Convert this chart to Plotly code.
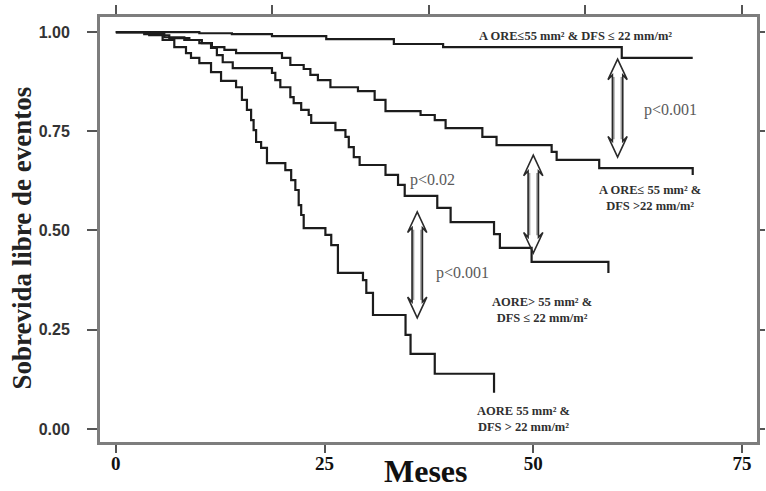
import plotly.graph_objects as go

# Kaplan-Meier event-free survival, four groups (time in months, step value after each event)
months_a = [0, 10.0, 13.9, 18.7, 25.2, 33.3, 39.2, 60.6, 69.1]
surv_a = [1.0, 0.997, 0.995, 0.990, 0.982, 0.970, 0.962, 0.935, 0.935]

months_b = [0, 4.0, 6.4, 8.8, 10.3, 11.5, 13.0, 14.4, 19.9, 20.9, 22.5, 23.3, 24.2,
            25.7, 29.0, 31.0, 32.3, 36.5, 38.2, 39.5, 43.9, 45.6, 52.2, 52.8, 57.9, 69.1]
surv_b = [1.0, 0.992, 0.985, 0.980, 0.972, 0.962, 0.955, 0.947, 0.935, 0.917, 0.907, 0.892, 0.879,
          0.861, 0.851, 0.829, 0.801, 0.791, 0.778, 0.758, 0.736, 0.715, 0.698, 0.678, 0.657, 0.640]

months_c = [0, 3.4, 5.8, 8.2, 10.0, 11.4, 12.1, 12.8, 14.0, 18.7, 19.1, 19.7, 20.9, 21.3, 22.2,
            23.1, 23.4, 26.3, 27.5, 27.9, 28.5, 29.2, 32.3, 33.8, 34.6, 38.5, 40.1, 45.3, 46.0,
            49.8, 59.0]
surv_c = [1.0, 0.995, 0.987, 0.980, 0.972, 0.960, 0.942, 0.924, 0.909, 0.897, 0.879, 0.861, 0.836,
          0.821, 0.804, 0.791, 0.771, 0.753, 0.736, 0.710, 0.685, 0.665, 0.640, 0.615, 0.587,
          0.557, 0.521, 0.491, 0.456, 0.421, 0.393]

months_d = [0, 4.0, 5.6, 7.0, 8.4, 9.0, 10.0, 11.4, 12.6, 14.4, 15.1, 15.7, 16.2, 16.5, 16.8,
            17.4, 18.1, 20.3, 21.0, 21.5, 21.9, 22.2, 22.5, 25.1, 25.8, 26.6, 29.6, 30.0, 30.8,
            34.7, 35.3, 38.2, 45.3]
surv_d = [1.0, 0.995, 0.980, 0.962, 0.947, 0.935, 0.922, 0.899, 0.877, 0.861, 0.829, 0.804,
          0.778, 0.753, 0.723, 0.708, 0.670, 0.652, 0.627, 0.602, 0.564, 0.539, 0.506, 0.489,
          0.463, 0.393, 0.375, 0.343, 0.287, 0.237, 0.189, 0.139, 0.091]

x_ticks = [0, 25, 50, 75]
y_ticks = [0.0, 0.25, 0.5, 0.75, 1.0]
y_tick_text = ["0.00", "0.25", "0.50", "0.75", "1.00"]
top_ticks = [0, 18.75, 37.5, 56.25, 75]

# Group labels: (text, month, survival)
group_labels = [
    ("A ORE≤55 mm² & DFS ≤ 22 mm/m²", 55.0, 0.990),
    ("A ORE≤ 55 mm² &<br>DFS >22 mm/m²", 64.0, 0.582),
    ("AORE> 55 mm² &<br>DFS ≤ 22 mm/m²", 51.0, 0.300),
    ("AORE 55 mm² &<br>DFS > 22 mm/m²", 48.8, 0.025),
]
# Log-rank comparisons: (text, month, survival)
p_labels = [
    ("p<0.001", 66.4, 0.804),
    ("p<0.02", 37.9, 0.627),
    ("p<0.001", 41.5, 0.393),
]
# Double arrows between compared curves: (month, lower survival, upper survival)
arrows = [
    (60.1, 0.685, 0.932),
    (50.0, 0.443, 0.690),
    (36.1, 0.280, 0.547),
]

fig = go.Figure()
line_style = dict(color="#1c1c1c", width=2.2, shape="hv")
for mx, sy in [(months_a, surv_a), (months_b, surv_b), (months_c, surv_c), (months_d, surv_d)]:
    fig.add_trace(go.Scatter(x=mx, y=sy, mode="lines", line=line_style,
                             showlegend=False, hoverinfo="skip"))

# Invisible trace so the mirrored top/right axes carry their own ticks
fig.add_trace(go.Scatter(x=[None], y=[None], xaxis="x2", yaxis="y2",
                         showlegend=False, hoverinfo="skip"))


def double_arrow(xc, y_lo, y_hi, head_w=1.15, shaft_w=0.62, head_h=0.052, notch=0.012):
    pts = [
        (xc, y_hi),
        (xc + head_w, y_hi - head_h),
        (xc + shaft_w, y_hi - head_h + notch),
        (xc + shaft_w, y_lo + head_h - notch),
        (xc + head_w, y_lo + head_h),
        (xc, y_lo),
        (xc - head_w, y_lo + head_h),
        (xc - shaft_w, y_lo + head_h - notch),
        (xc - shaft_w, y_hi - head_h + notch),
        (xc - head_w, y_hi - head_h),
    ]
    return "M " + " L ".join(f"{px},{py}" for px, py in pts) + " Z"


shapes = []
for xc, y_lo, y_hi in arrows:
    # inner shaft strokes give the hollow double-line look
    for dx in (-0.5, 0.5):
        shapes.append(dict(type="line", xref="x", yref="y", x0=xc + dx, x1=xc + dx,
                           y0=y_lo + 0.045, y1=y_hi - 0.045,
                           line=dict(color="#a0a0a0", width=2.5)))
    shapes.append(dict(type="path", xref="x", yref="y", path=double_arrow(xc, y_lo, y_hi),
                       fillcolor="rgba(0,0,0,0)", line=dict(color="#2a2a2a", width=1.6)))

annotations = []
for text, mx, sy in group_labels:
    annotations.append(dict(x=mx, y=sy, xref="x", yref="y", text=text, showarrow=False,
                            align="center",
                            font=dict(family="Liberation Serif", size=12.5, color="#303030",
                                      weight="bold")))
for text, mx, sy in p_labels:
    annotations.append(dict(x=mx, y=sy, xref="x", yref="y", text=text, showarrow=False,
                            font=dict(family="Liberation Serif", size=16, color="#5a5a5a")))

annotations.append(dict(x=0.496, y=0.0, xref="paper", yref="paper", yshift=-29,
                        text="<b>Meses</b>", showarrow=False, yanchor="middle",
                        font=dict(family="Liberation Serif", size=32, color="#111")))
annotations.append(dict(x=-0.118, y=0.48, xref="paper", yref="paper", textangle=-90,
                        xanchor="center", yanchor="middle",
                        text="<b>Sobrevida libre de eventos</b>", showarrow=False,
                        font=dict(family="Liberation Serif", size=27, color="#222")))

frame = dict(showline=True, linecolor="#7d7d7d", linewidth=3, showgrid=False,
             zeroline=False, ticks="outside", tickcolor="#555", tickwidth=2)

fig.update_layout(
    width=766, height=491,
    margin=dict(l=100, r=4, t=17, b=49),
    paper_bgcolor="white", plot_bgcolor="white",
    shapes=shapes, annotations=annotations,
    xaxis=dict(range=[-1.9, 76.8], tickvals=x_ticks, ticklen=8, ticklabelstandoff=-6,
               tickfont=dict(family="Liberation Serif", size=19, color="#111", weight="bold"),
               **frame),
    yaxis=dict(range=[-0.033, 1.038], tickvals=y_ticks, ticktext=y_tick_text, ticklen=10,
               ticklabelstandoff=14,
               tickfont=dict(family="Liberation Sans", size=16, color="#333", weight="bold"),
               **frame),
    xaxis2=dict(range=[-1.9, 76.8], overlaying="x", side="top", tickvals=top_ticks,
                showticklabels=False, ticklen=9, **frame),
    yaxis2=dict(range=[-0.033, 1.038], overlaying="y", side="right", tickvals=y_ticks,
                showticklabels=False, ticklen=5, **frame),
)

fig.write_html("out.html")
